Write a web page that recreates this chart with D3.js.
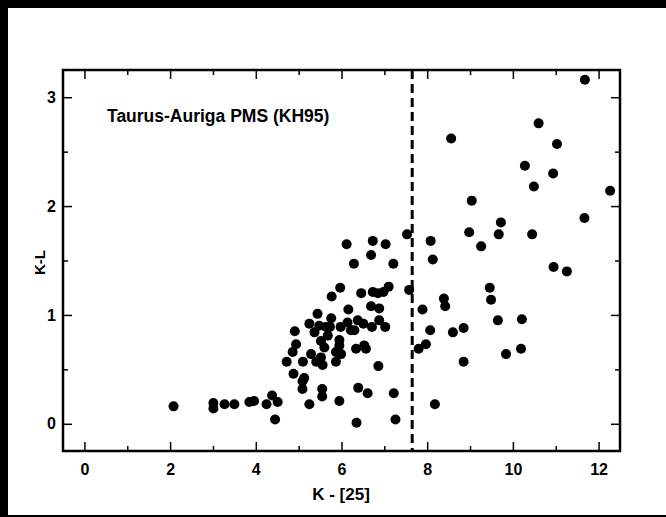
<!DOCTYPE html>
<html>
<head>
<meta charset="utf-8">
<script src="https://cdn.jsdelivr.net/npm/d3@7"></script>
<style>
  body { margin: 0; background: #000; }
  text { font-family: "Liberation Sans", Arial, Helvetica, sans-serif; }
</style>
</head>
<body>
<div id="chart"></div>
<script>
// K - [25] vs K-L, Taurus-Auriga PMS stars (KH95)
var kMinus25 = [
  2.08, 3.01, 3.01, 3.27, 3.50, 3.85, 3.96, 4.25, 4.38, 4.51, 4.45,
  5.09, 5.09, 5.13, 4.88, 5.55, 5.55, 5.25, 5.95, 6.39, 6.61, 7.22, 6.35, 7.26, 8.18, 6.86,
  4.72, 4.86, 4.94, 4.91, 5.10, 5.29, 5.25, 5.37, 5.41, 5.44, 5.48, 5.52, 5.52, 5.56, 5.60,
  5.68, 5.76, 5.77, 5.73, 5.87, 5.87, 5.97, 5.98, 5.95, 5.99, 5.95, 5.64,
  6.14, 6.16, 6.22, 6.30, 6.38, 6.51, 6.34, 6.53, 6.57, 6.46, 6.69, 6.71, 6.88, 6.88, 7.02,
  6.73, 6.85, 6.98, 7.10, 7.58, 6.12, 6.73, 7.03, 6.69, 6.29, 7.21, 7.53,
  7.80, 7.97, 8.07, 7.89, 8.08, 8.13, 8.39, 8.42, 8.60, 8.85, 8.85, 9.46, 9.49, 9.65, 9.84,
  10.19, 10.21, 10.95, 11.26, 9.26, 8.98, 9.67, 9.72, 10.45, 11.67, 9.04, 10.49, 12.27,
  10.94, 10.28, 11.03, 8.56, 10.60, 11.68
];
var kMinusL = [
  0.16, 0.19, 0.14, 0.18, 0.18, 0.20, 0.21, 0.18, 0.26, 0.20, 0.04,
  0.39, 0.32, 0.42, 0.46, 0.32, 0.25, 0.18, 0.21, 0.33, 0.28, 0.28, 0.01, 0.04, 0.18, 0.53,
  0.57, 0.66, 0.73, 0.85, 0.57, 0.64, 0.92, 0.84, 0.57, 1.01, 0.90, 0.76, 0.61, 0.54, 0.70,
  0.81, 0.97, 1.17, 0.89, 0.66, 0.57, 1.25, 0.89, 0.72, 0.64, 0.77, 0.89,
  0.93, 1.05, 0.86, 0.86, 0.95, 0.92, 0.69, 0.72, 0.69, 1.20, 1.08, 0.89, 0.95, 1.06, 0.89,
  1.21, 1.20, 1.21, 1.26, 1.23, 1.65, 1.68, 1.65, 1.55, 1.47, 1.47, 1.74,
  0.69, 0.73, 0.86, 1.05, 1.68, 1.51, 1.15, 1.08, 0.84, 0.88, 0.57, 1.25, 1.14, 0.95, 0.64,
  0.69, 0.96, 1.44, 1.40, 1.63, 1.76, 1.74, 1.85, 1.74, 1.89, 2.05, 2.18, 2.14,
  2.30, 2.37, 2.57, 2.62, 2.76, 3.16
];
var xTicks = [0, 2, 4, 6, 8, 10, 12];
var xMinor = [1, 3, 5, 7, 9, 11];
var yTicks = [0, 1, 2, 3];
var yMinor = [0.5, 1.5, 2.5];
var cutoff = 7.65;
var label = "Taurus-Auriga PMS (KH95)";

var width = 666, height = 517;
var margin = {left: 63, top: 70, right: 46, bottom: 66};

var svg = d3.select("#chart").append("svg")
    .attr("width", width)
    .attr("height", height);

// black frame round the page
svg.append("rect").attr("x", 0).attr("y", 0).attr("width", width).attr("height", height).attr("fill", "#000");
svg.append("rect").attr("x", 8).attr("y", 8).attr("width", width - 8).attr("height", height - 10).attr("fill", "#fff");

var x = d3.scaleLinear().domain([-0.5, 12.5]).range([margin.left, width - margin.right]);
var y = d3.scaleLinear().domain([-0.25, 3.25]).range([height - margin.bottom, margin.top]);

var pts = kMinus25.map(function(d, i) { return [d, kMinusL[i]]; });

var plotB = y.range()[0], plotT = y.range()[1];
var plotL = x.range()[0], plotR = x.range()[1];

// points
svg.selectAll("circle.pt").data(pts).enter().append("circle")
    .attr("class", "pt")
    .attr("cx", function(d) { return x(d[0]); })
    .attr("cy", function(d) { return y(d[1]); })
    .attr("r", 5)
    .attr("fill", "#000");

// dashed cut line
svg.append("line")
    .attr("x1", x(cutoff)).attr("x2", x(cutoff))
    .attr("y1", plotT).attr("y2", plotB)
    .attr("stroke", "#000")
    .attr("stroke-width", 3)
    .attr("stroke-dasharray", "9,5");

function styleAxis(g) {
  g.selectAll(".domain").remove();
  g.selectAll(".tick line").attr("stroke", "#000").attr("stroke-width", 1.5);
  g.selectAll("text").attr("fill", "#000").style("font-size", "16px").style("font-weight", "bold");
}

// bottom axis
svg.append("g").attr("transform", "translate(0," + plotB + ")")
  .call(d3.axisBottom(x).tickValues(xTicks).tickSizeInner(-9).tickSizeOuter(0).tickPadding(13).tickFormat(d3.format("d")))
  .call(styleAxis);
svg.append("g").attr("transform", "translate(0," + plotB + ")")
  .call(d3.axisBottom(x).tickValues(xMinor).tickSizeInner(-5).tickSizeOuter(0).tickFormat(""))
  .call(styleAxis);
// top axis
svg.append("g").attr("transform", "translate(0," + plotT + ")")
  .call(d3.axisTop(x).tickValues(xTicks).tickSizeInner(-9).tickSizeOuter(0).tickFormat(""))
  .call(styleAxis);
svg.append("g").attr("transform", "translate(0," + plotT + ")")
  .call(d3.axisTop(x).tickValues(xMinor).tickSizeInner(-5).tickSizeOuter(0).tickFormat(""))
  .call(styleAxis);
// left axis
svg.append("g").attr("transform", "translate(" + plotL + ",0)")
  .call(d3.axisLeft(y).tickValues(yTicks).tickSizeInner(-9).tickSizeOuter(0).tickPadding(7).tickFormat(d3.format("d")))
  .call(styleAxis);
svg.append("g").attr("transform", "translate(" + plotL + ",0)")
  .call(d3.axisLeft(y).tickValues(yMinor).tickSizeInner(-5).tickSizeOuter(0).tickFormat(""))
  .call(styleAxis);
// right axis
svg.append("g").attr("transform", "translate(" + plotR + ",0)")
  .call(d3.axisRight(y).tickValues(yTicks).tickSizeInner(-9).tickSizeOuter(0).tickFormat(""))
  .call(styleAxis);
svg.append("g").attr("transform", "translate(" + plotR + ",0)")
  .call(d3.axisRight(y).tickValues(yMinor).tickSizeInner(-5).tickSizeOuter(0).tickFormat(""))
  .call(styleAxis);

// plot box
svg.append("rect")
    .attr("x", plotL).attr("y", plotT)
    .attr("width", plotR - plotL).attr("height", plotB - plotT)
    .attr("fill", "none").attr("stroke", "#000").attr("stroke-width", 2.5);

// texts
svg.append("text")
    .attr("x", 107).attr("y", 122)
    .style("font-size", "17.5px").style("font-weight", "bold")
    .text(label);

svg.append("text")
    .attr("x", 341).attr("y", 500)
    .attr("text-anchor", "middle")
    .style("font-size", "17px").style("font-weight", "bold")
    .text("K - [25]");

svg.append("text")
    .attr("transform", "translate(45," + ((plotT + plotB) / 2 + 2) + ") rotate(-90)")
    .attr("text-anchor", "middle")
    .style("font-size", "15px").style("font-weight", "bold")
    .text("K-L");
</script>
</body>
</html>
